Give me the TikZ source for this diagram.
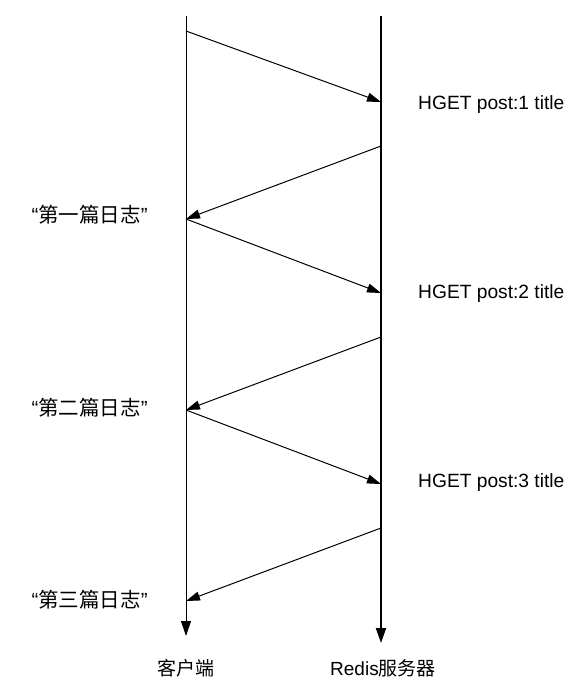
\documentclass[tikz,border=0pt]{standalone}
\usepackage{fontspec}
\setmainfont{Liberation Sans}
\newfontfamily\cjk{Noto Sans CJK SC}
\usetikzlibrary{arrows.meta}

\begin{document}
\begin{tikzpicture}[
  x=1pt, y=-1pt,
  lifeline/.style={-{Triangle[length=15pt,width=10pt]}},
  message/.style={-{Triangle[length=14pt,width=9pt]}, line width=1pt},
  command/.style={anchor=base west, font=\fontsize{19.2}{21}\selectfont, inner sep=0pt},
  reply/.style={anchor=east, font=\fontsize{20.5}{22}\selectfont, inner sep=0pt},
  actor/.style={font=\fontsize{19}{21}\selectfont, inner sep=0pt},
]
%general params
\def\cx{186} %client x
\def\sx{381} %server x
\def\gap{191} %one round trip

\useasboundingbox (0,0) rectangle (587,696);

%lifelines
\coordinate (ctop) at (\cx,16);
\coordinate (cend) at (\cx,636);
\coordinate (stop) at (\sx,16);
\coordinate (send) at (\sx,643);
\draw[lifeline, line width=1pt] (ctop) -- (cend);
\draw[lifeline, line width=2pt] (stop) -- (send);
\node[actor] (client) at (\cx,668) {\cjk 客户端};
\node[actor] (server) at (383,668) {Redis{\cjk 服务器}};

%rounds
\coordinate (c0) at (\cx,31);
\foreach \i/\num in {1/一,2/二,3/三} {
  \pgfmathtruncatemacro\prev{\i-1}
  \coordinate (sin\i) at (\sx,{102+(\i-1)*\gap});
  \coordinate (sout\i) at (\sx,{146+(\i-1)*\gap});
  \coordinate (c\i) at (\cx,{219+(\i-1)*\gap});
  \draw[message] (c\prev) -- (sin\i);
  \draw[message] (sout\i) -- (c\i);
  \node[command] (cmd\i) at (418,{109+(\i-1)*189}) {HGET post:\i\ title};
  \node[reply] (ans\i) at (148,{215+(\i-1)*192.5}) {“{\cjk 第\num 篇日志}”};
}

\end{tikzpicture}
\end{document}
